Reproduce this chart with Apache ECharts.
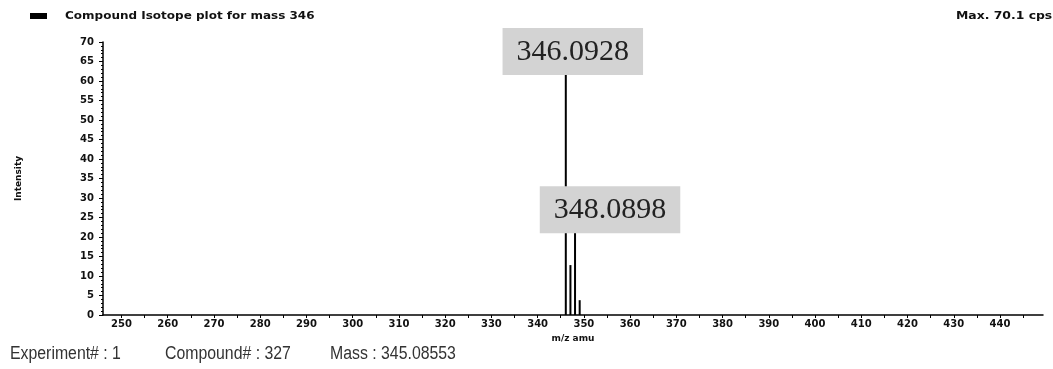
<!DOCTYPE html>
<html>
<head>
<meta charset="utf-8">
<script src="https://cdn.jsdelivr.net/npm/echarts@6/dist/echarts.min.js"></script>
<style>
html,body{margin:0;padding:0;background:#fff;}
#c{width:1053px;height:369px;}
</style>
</head>
<body>
<div id="c"></div>
<script>
// m/z values of the isotope peaks and their intensities (cps)
const peakMz = [346.0928, 347.0960, 348.0898, 349.0930];
const peakIntensity = [70.1, 12.8, 23.0, 3.8];
const peakLabels = ['346.0928', '', '348.0898', ''];
const xTickLabels = [250,260,270,280,290,300,310,320,330,340,350,360,370,380,390,400,410,420,430,440];
const xTickMarks = [];
for (let v = 250; v <= 445; v += 5) xTickMarks.push(v);
const titleText = 'Compound Isotope plot for mass 346';
const maxText = 'Max. 70.1 cps';
const footer = ['Experiment# : 1', 'Compound# : 327', 'Mass : 345.08553'];

const chart = echarts.init(document.getElementById('c'));
const pixFont = 'DejaVu Sans';
const labelOffsets = [[7, 33], null, [35, 8], null];

const data = peakMz.map((m, i) => {
  const d = { value: [m, peakIntensity[i]] };
  if (peakLabels[i]) {
    d.label = {
      show: true,
      position: 'top',
      distance: 0,
      offset: labelOffsets[i],
      formatter: peakLabels[i],
      fontFamily: 'Liberation Serif',
      fontSize: 30,
      color: '#222',
      backgroundColor: '#d3d3d3',
      padding: [9, 14, 8, 14]
    };
  }
  return d;
});

const footFont = '18px "Liberation Sans", Arial, sans-serif';

chart.setOption({
  animation: false,
  backgroundColor: '#fff',
  grid: { left: 103, right: 10, top: 42, bottom: 54 },
  xAxis: {
    type: 'value',
    min: 246,
    max: 449.3,
    name: 'm/z amu',
    nameLocation: 'middle',
    nameGap: 15,
    nameTextStyle: { fontFamily: pixFont, fontWeight: 'bold', fontSize: 9, color: '#111' },
    axisLine: { show: true, lineStyle: { color: '#000', width: 1.5 } },
    axisTick: { show: true, customValues: xTickMarks, length: 3, lineStyle: { color: '#000' } },
    axisLabel: { customValues: xTickLabels, fontFamily: pixFont, fontWeight: 'bold', fontSize: 10, color: '#111', margin: 4 },
    splitLine: { show: false }
  },
  yAxis: {
    type: 'value',
    min: 0,
    max: 70,
    interval: 5,
    name: 'Intensity',
    nameLocation: 'middle',
    nameRotate: 90,
    nameGap: 80,
    nameTextStyle: { fontFamily: pixFont, fontWeight: 'bold', fontSize: 9, color: '#111' },
    axisLine: { show: true, lineStyle: { color: '#000', width: 1.5 } },
    axisTick: { show: true, length: 4, lineStyle: { color: '#000' } },
    minorTick: { show: true, splitNumber: 5, length: 2, lineStyle: { color: '#000' } },
    axisLabel: { fontFamily: pixFont, fontWeight: 'bold', fontSize: 10, color: '#111', margin: 9 },
    splitLine: { show: false }
  },
  series: [{
    type: 'bar',
    barWidth: 2,
    itemStyle: { color: '#000' },
    data: data
  }],
  graphic: [
    { type: 'rect', x: 30, y: 13, shape: { width: 17, height: 6 }, style: { fill: '#000' } },
    { type: 'text', x: 65, y: 11, scaleX: 1.2, style: { text: titleText, font: 'bold 10px DejaVu Sans', fill: '#111' } },
    { type: 'text', x: 956, y: 11, scaleX: 1.24, style: { text: maxText, font: 'bold 10px DejaVu Sans', fill: '#111' } },
    { type: 'text', x: 10, y: 345, scaleX: 0.88, style: { text: footer[0], font: footFont, fill: '#333' } },
    { type: 'text', x: 165, y: 345, scaleX: 0.88, style: { text: footer[1], font: footFont, fill: '#333' } },
    { type: 'text', x: 330, y: 345, scaleX: 0.88, style: { text: footer[2], font: footFont, fill: '#333' } }
  ]
});
</script>
</body>
</html>
